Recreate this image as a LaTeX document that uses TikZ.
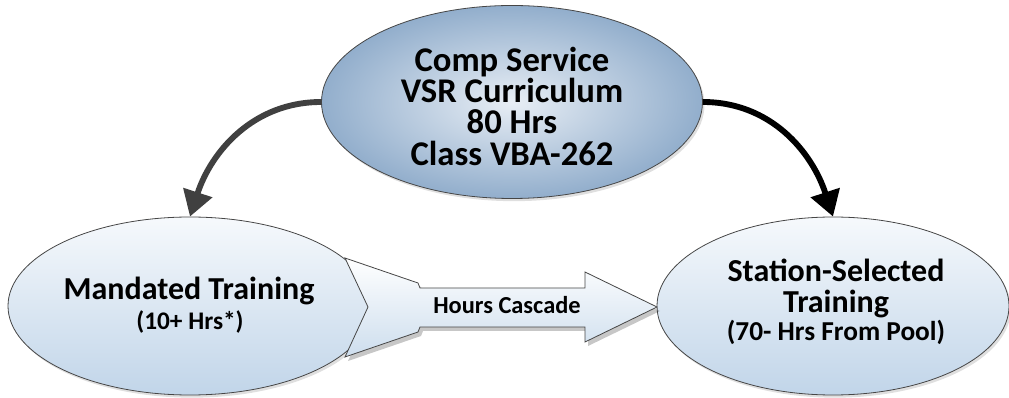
\documentclass[tikz,border=0pt]{standalone}
\usepackage{fontspec}
\setmainfont{Carlito}
\usetikzlibrary{arrows.meta,shapes.geometric,shadows}
\definecolor{edgeblue}{RGB}{146,174,204}
\definecolor{centerblue}{RGB}{232,238,245}
\definecolor{lighttop}{RGB}{246,249,252}
\definecolor{lightbot}{RGB}{193,213,233}
\definecolor{outline}{RGB}{70,70,70}
\definecolor{leftarrow}{RGB}{64,64,64}
\tikzset{
  topell/.style={ellipse, draw=outline, line width=0.6pt, inner sep=0pt,
    inner color=centerblue, outer color=edgeblue,
    minimum width=285.75pt, minimum height=144.75pt, align=center,
    drop shadow={opacity=0.25, shadow xshift=1.5pt, shadow yshift=-2pt}},
  lowell/.style={ellipse, draw=outline, line width=0.6pt, inner sep=0pt,
    top color=lighttop, bottom color=lightbot,
    minimum height=133.5pt, align=center,
    drop shadow={opacity=0.25, shadow xshift=1.5pt, shadow yshift=-2pt}},
  conn/.style={line width=4.4pt, -{Triangle[width=22pt,length=19pt]}},
  lbl/.style={inner sep=0pt, align=center}
}
\begin{document}
\begin{tikzpicture}[x=0.75pt,y=-0.75pt]
\useasboundingbox (0,0) rectangle (1009,398);
% ellipses
\node[topell] (top) at (512,102) {};
\node[lbl, font=\bfseries\fontsize{26}{23.5}\selectfont] (toptext) at (512,106)
  {Comp Service\\VSR Curriculum\\80 Hrs\\Class VBA-262};
\node[lowell, minimum width=273pt] (left) at (190,306) {};
\node[lowell, minimum width=264pt] (right) at (833,306) {};
% block arrow shadow
\fill[black, opacity=0.22, shift={(3,4)}]
  (345,258) -- (418,283) -- (420,288) -- (585,288) -- (585,272) -- (657,307)
  -- (585,342) -- (585,327) -- (420,327) -- (418,332) -- (345,357) -- (368,307) -- cycle;
% block arrow
\shade[draw=outline, line width=0.6pt, top color=white, bottom color=lightbot!80]
  (345,258) -- (418,283) -- (420,288) -- (585,288) -- (585,272) -- (657,307)
  -- (585,342) -- (585,327) -- (420,327) -- (418,332) -- (345,357) -- (368,307) -- cycle;
\node[lbl, font=\bfseries\fontsize{18.3}{20}\selectfont] (casc) at (507,305) {Hours Cascade};
% texts of lower ellipses
\node[lbl, font=\bfseries\fontsize{24}{26}\selectfont, anchor=base] (lt1) at (189,300) {Mandated Training};
\node[lbl, font=\bfseries\fontsize{19}{22}\selectfont, anchor=base] (lt2) at (190,330) {(10+ Hrs*)};
\node[lbl, font=\bfseries\fontsize{24}{26}\selectfont, anchor=base] (rt1) at (836,282) {Station-Selected};
\node[lbl, font=\bfseries\fontsize{24}{26}\selectfont, anchor=base] (rt2) at (836,313) {Training};
\node[lbl, font=\bfseries\fontsize{20.5}{22}\selectfont, anchor=base] (rt3) at (836,341) {(70- Hrs From Pool)};
% connectors
\draw[conn, draw=leftarrow] (top.west) to[out=180,in=72] (left.north);
\draw[conn, draw=black] (top.east) to[out=0,in=108] (right.north);
\end{tikzpicture}
\end{document}
